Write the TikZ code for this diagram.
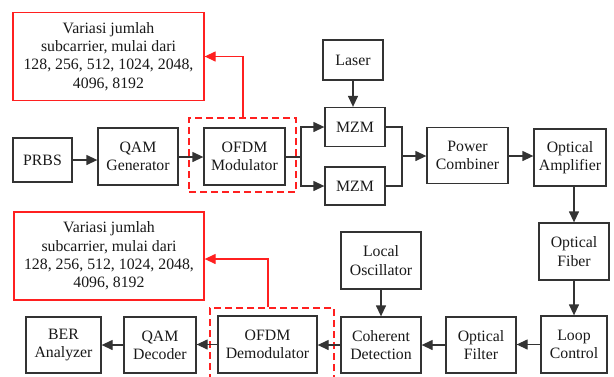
\documentclass[tikz,border=0pt]{standalone}
\usepackage{fontspec}
\setmainfont{Liberation Serif}
\usetikzlibrary{arrows.meta,calc}
\definecolor{ln}{HTML}{333333}
\definecolor{rd}{HTML}{FF2020}
\begin{document}
\begin{tikzpicture}[x=1pt,y=-1pt,
  blk/.style={draw=ln,line width=1.3pt,align=center,inner sep=0pt,
    font=\fontsize{15.8}{18.3}\selectfont,text=black!90},
  redbox/.style={draw=rd,line width=1.3pt,align=center,inner sep=0pt,
    font=\fontsize{15.8}{18.3}\selectfont,text=black!90},
  dbox/.style={draw=rd,line width=1.3pt,dash pattern=on 7pt off 4pt},
  con/.style={draw=ln,line width=1.3pt,-{Triangle[length=11pt,width=10pt]}},
  plain/.style={draw=ln,line width=1.3pt},
  rcon/.style={draw=rd,line width=1.3pt,-{Triangle[length=11pt,width=10pt]}}]
\clip (0,0) rectangle (614,376);
\fill[white] (0,0) rectangle (614,376);
% dashed boxes
\node[dbox,minimum width=107pt,minimum height=74pt] (d1) at (242.5,155) {};
\node[dbox,minimum width=124pt,minimum height=82pt] (d2) at (272,349) {};
% red boxes
\node[redbox,minimum width=191pt,minimum height=88pt] (r1) at (108.5,56.5) {Variasi jumlah\\subcarrier, mulai dari\\128, 256, 512, 1024, 2048,\\4096, 8192};
\node[redbox,minimum width=190pt,minimum height=88pt] (r2) at (109,256) {Variasi jumlah\\subcarrier, mulai dari\\128, 256, 512, 1024, 2048,\\4096, 8192};
% top row
\node[blk,minimum width=59pt,minimum height=44pt] (prbs) at (42.5,160) {PRBS};
\node[blk,minimum width=80pt,minimum height=57pt] (qamg) at (138,156.5) {QAM\\Generator};
\node[blk,minimum width=81pt,minimum height=57pt] (ofdm) at (244.5,156.5) {OFDM\\Modulator};
\node[blk,minimum width=60pt,minimum height=40pt] (laser) at (353,60) {Laser};
\node[blk,minimum width=60pt,minimum height=39pt] (mzm1) at (355,127) {MZM};
\node[blk,minimum width=60pt,minimum height=38pt] (mzm2) at (355,186) {MZM};
\node[blk,minimum width=81pt,minimum height=56pt] (pc) at (467.5,155.5) {Power\\Combiner};
\node[blk,minimum width=72pt,minimum height=57pt] (amp) at (570,157.5) {Optical\\Amplifier};
\node[blk,minimum width=70pt,minimum height=57pt] (fib) at (574,251.5) {Optical\\Fiber};
% bottom row
\node[blk,minimum width=66pt,minimum height=57pt] (loop) at (574,344.5) {Loop\\Control};
\node[blk,minimum width=70pt,minimum height=56pt] (filt) at (481,345) {Optical\\Filter};
\node[blk,minimum width=80pt,minimum height=56pt] (coh) at (381,345) {Coherent\\Detection};
\node[blk,minimum width=80pt,minimum height=57pt] (lo) at (381,260.5) {Local\\Oscillator};
\node[blk,minimum width=99pt,minimum height=57pt] (odem) at (267.5,344.5) {OFDM\\Demodulator};
\node[blk,minimum width=72pt,minimum height=56pt] (qamd) at (160,345) {QAM\\Decoder};
\node[blk,minimum width=75pt,minimum height=56pt] (ber) at (63.5,345) {BER\\Analyzer};
% split/join points
\coordinate (split) at (301,157);
\coordinate (join) at (402,156);
% connectors
\draw[con] (prbs.east) -- (prbs.east -| qamg.west);
\draw[con] (qamg.east |- 0,157) -- (ofdm.west |- 0,157);
\draw[plain] (ofdm.east |- split) -- (split);
\draw[con] (split) |- (mzm1.west);
\draw[con] (split) |- (mzm2.west);
\draw[plain] (mzm1.east) -| (join);
\draw[plain] (mzm2.east) -| (join);
\draw[con] (join) -- (join -| pc.west);
\draw[con] (laser.south) -- (mzm1.north -| laser.south);
\draw[con] (pc.east |- 0,156) -- (amp.west |- 0,156);
\draw[con] (fib.north |- amp.south) -- (fib.north);
\draw[con] (fib.south) -- (fib.south |- loop.north);
\draw[con] (loop.west) -- (loop.west -| filt.east);
\draw[con] (filt.west) -- (filt.west -| coh.east);
\draw[con] (coh.west) -- (coh.west -| odem.east);
\draw[con] (odem.west) -- (odem.west -| qamd.east);
\draw[con] (qamd.west) -- (qamd.west -| ber.east);
\draw[con] (lo.south) -- (coh.north);
% red connectors
\draw[rcon] ($(d1.north)+(0.5,0)$) |- (r1.east);
\draw[rcon] ($(d2.north)+(-4,0)$) |- ($(r2.east)+(0,3)$);
\end{tikzpicture}
\end{document}
